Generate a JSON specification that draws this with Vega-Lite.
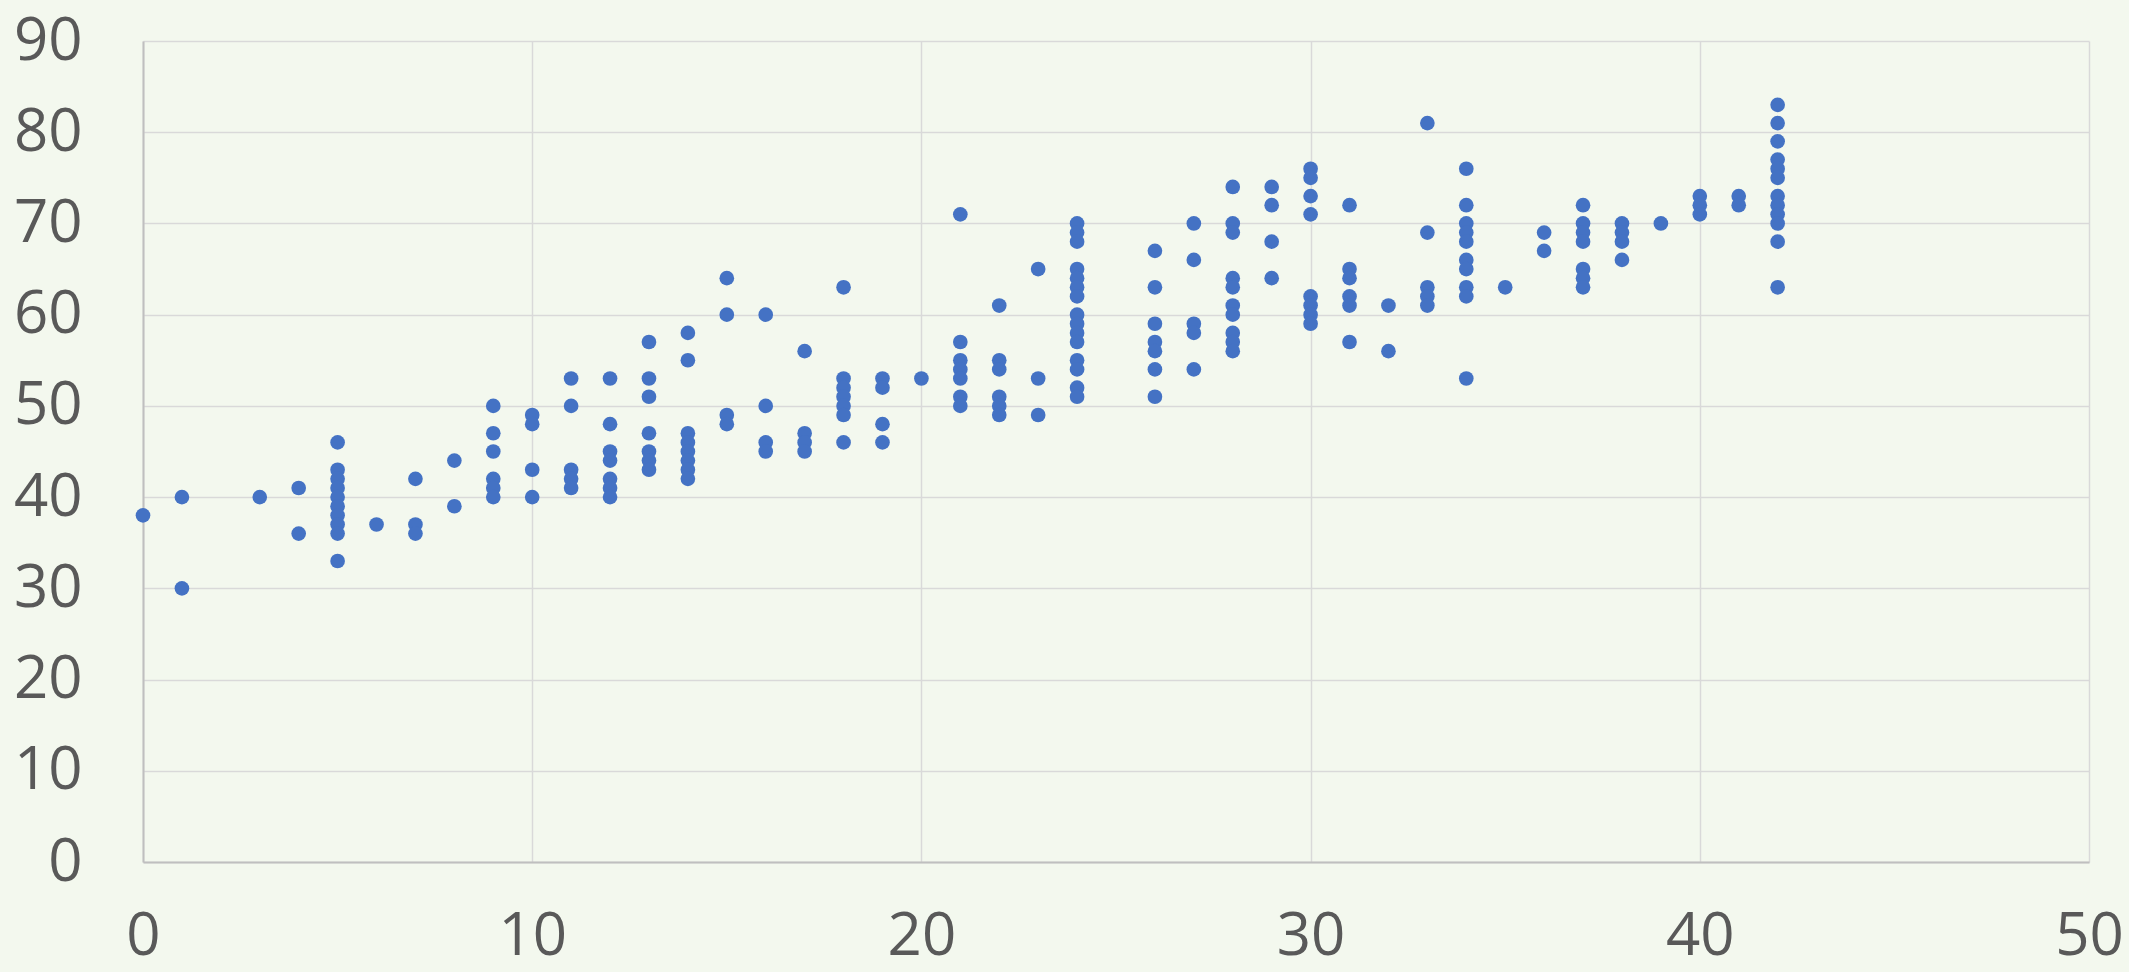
{
  "$schema": "https://vega.github.io/schema/vega-lite/v6.json",
  "autosize": "none",
  "width": 1946,
  "height": 821,
  "padding": {"left": 143, "top": 41, "right": 40, "bottom": 110},
  "background": "#F3F8EE",
  "config": {"view": {"stroke": null}},
  "data": {"values": [
    {"x":0,"y":38},
    {"x":1,"y":40},{"x":1,"y":30},
    {"x":3,"y":40},
    {"x":4,"y":41},{"x":4,"y":36},
    {"x":5,"y":46},{"x":5,"y":43},{"x":5,"y":42},{"x":5,"y":41},{"x":5,"y":40},{"x":5,"y":39},{"x":5,"y":38},{"x":5,"y":37},{"x":5,"y":36},{"x":5,"y":33},
    {"x":6,"y":37},
    {"x":7,"y":42},{"x":7,"y":37},{"x":7,"y":36},
    {"x":8,"y":44},{"x":8,"y":39},
    {"x":9,"y":50},{"x":9,"y":47},{"x":9,"y":45},{"x":9,"y":42},{"x":9,"y":41},{"x":9,"y":40},
    {"x":10,"y":49},{"x":10,"y":48},{"x":10,"y":43},{"x":10,"y":40},
    {"x":11,"y":53},{"x":11,"y":50},{"x":11,"y":43},{"x":11,"y":42},{"x":11,"y":41},
    {"x":12,"y":53},{"x":12,"y":48},{"x":12,"y":45},{"x":12,"y":44},{"x":12,"y":42},{"x":12,"y":41},{"x":12,"y":40},
    {"x":13,"y":57},{"x":13,"y":53},{"x":13,"y":51},{"x":13,"y":47},{"x":13,"y":45},{"x":13,"y":44},{"x":13,"y":43},
    {"x":14,"y":58},{"x":14,"y":55},{"x":14,"y":47},{"x":14,"y":46},{"x":14,"y":45},{"x":14,"y":44},{"x":14,"y":43},{"x":14,"y":42},
    {"x":15,"y":64},{"x":15,"y":60},{"x":15,"y":49},{"x":15,"y":48},
    {"x":16,"y":60},{"x":16,"y":50},{"x":16,"y":46},{"x":16,"y":45},
    {"x":17,"y":56},{"x":17,"y":47},{"x":17,"y":46},{"x":17,"y":45},
    {"x":18,"y":63},{"x":18,"y":53},{"x":18,"y":52},{"x":18,"y":51},{"x":18,"y":50},{"x":18,"y":49},{"x":18,"y":46},
    {"x":19,"y":53},{"x":19,"y":52},{"x":19,"y":48},{"x":19,"y":46},
    {"x":20,"y":53},
    {"x":21,"y":71},{"x":21,"y":57},{"x":21,"y":55},{"x":21,"y":54},{"x":21,"y":53},{"x":21,"y":51},{"x":21,"y":50},
    {"x":22,"y":61},{"x":22,"y":55},{"x":22,"y":54},{"x":22,"y":51},{"x":22,"y":50},{"x":22,"y":49},
    {"x":23,"y":65},{"x":23,"y":53},{"x":23,"y":49},
    {"x":24,"y":70},{"x":24,"y":69},{"x":24,"y":68},{"x":24,"y":65},{"x":24,"y":64},{"x":24,"y":63},{"x":24,"y":62},{"x":24,"y":60},{"x":24,"y":59},{"x":24,"y":58},{"x":24,"y":57},{"x":24,"y":55},{"x":24,"y":54},{"x":24,"y":52},{"x":24,"y":51},
    {"x":26,"y":67},{"x":26,"y":63},{"x":26,"y":59},{"x":26,"y":57},{"x":26,"y":56},{"x":26,"y":54},{"x":26,"y":51},
    {"x":27,"y":70},{"x":27,"y":66},{"x":27,"y":59},{"x":27,"y":58},{"x":27,"y":54},
    {"x":28,"y":74},{"x":28,"y":70},{"x":28,"y":69},{"x":28,"y":64},{"x":28,"y":63},{"x":28,"y":61},{"x":28,"y":60},{"x":28,"y":58},{"x":28,"y":57},{"x":28,"y":56},
    {"x":29,"y":74},{"x":29,"y":72},{"x":29,"y":68},{"x":29,"y":64},
    {"x":30,"y":76},{"x":30,"y":75},{"x":30,"y":73},{"x":30,"y":71},{"x":30,"y":62},{"x":30,"y":61},{"x":30,"y":60},{"x":30,"y":59},
    {"x":31,"y":72},{"x":31,"y":65},{"x":31,"y":64},{"x":31,"y":62},{"x":31,"y":61},{"x":31,"y":57},
    {"x":32,"y":61},{"x":32,"y":56},
    {"x":33,"y":81},{"x":33,"y":69},{"x":33,"y":63},{"x":33,"y":62},{"x":33,"y":61},
    {"x":34,"y":76},{"x":34,"y":72},{"x":34,"y":70},{"x":34,"y":69},{"x":34,"y":68},{"x":34,"y":66},{"x":34,"y":65},{"x":34,"y":63},{"x":34,"y":62},{"x":34,"y":53},
    {"x":35,"y":63},
    {"x":36,"y":69},{"x":36,"y":67},
    {"x":37,"y":72},{"x":37,"y":70},{"x":37,"y":69},{"x":37,"y":68},{"x":37,"y":65},{"x":37,"y":64},{"x":37,"y":63},
    {"x":38,"y":70},{"x":38,"y":69},{"x":38,"y":68},{"x":38,"y":66},
    {"x":39,"y":70},
    {"x":40,"y":73},{"x":40,"y":72},{"x":40,"y":71},
    {"x":41,"y":73},{"x":41,"y":72},
    {"x":42,"y":83},{"x":42,"y":81},{"x":42,"y":79},{"x":42,"y":77},{"x":42,"y":76},{"x":42,"y":75},{"x":42,"y":73},{"x":42,"y":72},{"x":42,"y":71},{"x":42,"y":70},{"x":42,"y":68},{"x":42,"y":63}
  ]},
  "mark": {"type": "point", "filled": true, "opacity": 1, "size": 215, "color": "#4472C4", "strokeWidth": 0},
  "encoding": {
    "x": {
      "field": "x", "type": "quantitative",
      "scale": {"domain": [0, 50], "nice": false, "zero": true},
      "axis": {
        "title": null, "values": [0, 10, 20, 30, 40, 50],
        "grid": true, "gridColor": "#D9D9D9", "gridWidth": 1.5,
        "domain": true, "domainColor": "#BFBFBF", "domainWidth": 2,
        "ticks": false, "labelPadding": 74, "labelBaseline": "middle",
        "labelFont": "Open Sans", "labelFontSize": 60, "labelColor": "#595959",
        "labelFlush": false, "labelOverlap": false
      }
    },
    "y": {
      "field": "y", "type": "quantitative",
      "scale": {"domain": [0, 90], "nice": false},
      "axis": {
        "title": null, "values": [0, 10, 20, 30, 40, 50, 60, 70, 80, 90],
        "grid": true, "gridColor": "#D9D9D9", "gridWidth": 1.5,
        "domain": true, "domainColor": "#BFBFBF", "domainWidth": 2,
        "ticks": false, "labelPadding": 61, "labelBaseline": "middle",
        "labelFont": "Open Sans", "labelFontSize": 60, "labelColor": "#595959",
        "labelFlush": false, "labelOverlap": false
      }
    }
  }
}
